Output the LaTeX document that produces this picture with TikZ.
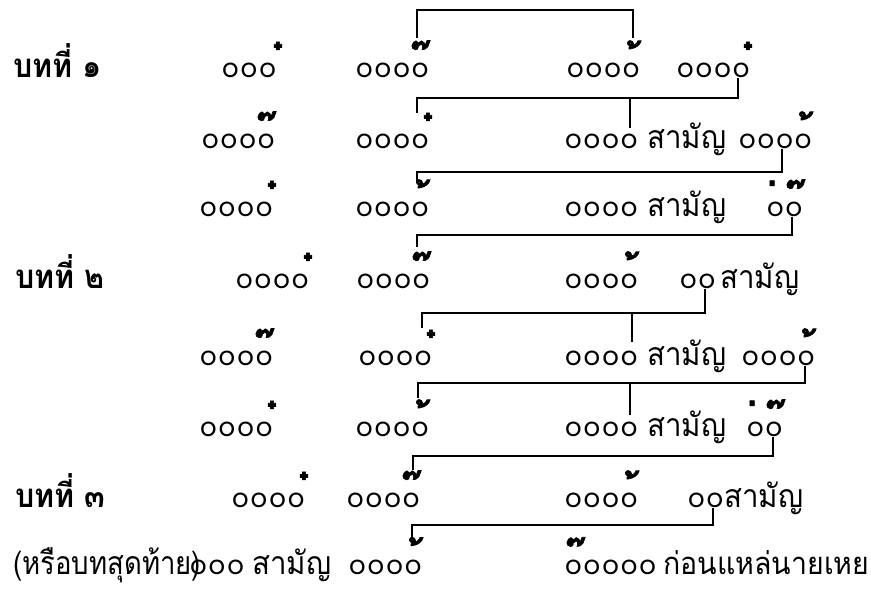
\documentclass[tikz,border=0pt]{standalone}
\usepackage{fontspec}
\newfontfamily\thai[Script=Thai,FakeStretch=0.92]{Loma}
\newfontfamily\thain[Script=Thai,FakeStretch=0.86]{Loma}
\newfontfamily\thaimk[Script=Thai,BoldFeatures={FakeBold=1.5}]{Loma}
\newfontfamily\circf{Poppins}
\newcommand\circs[1]{\foreach \i in {1,...,#1}{\ifnum\i>1 \kern1.9pt\fi o}}
\newcommand\mEk{\char"0E48}
\newcommand\mTho{\char"0E49}
\newcommand\mTri{\char"0E4A}
\newcommand\mCh{\char"0E4B}
\begin{document}
\begin{tikzpicture}[x=1pt,y=-1pt,
  circ/.style={anchor=base west,inner sep=0pt,font=\circf\fontsize{26}{26}\selectfont},
  ttxt/.style={anchor=base west,inner sep=0pt,font=\thai\fontsize{32}{36}\selectfont},
  lbl/.style={anchor=base west,inner sep=0pt,font=\thai\bfseries\fontsize{33}{36}\selectfont},
  mk/.style={anchor=base,inner sep=0pt,font=\thaimk\bfseries\fontsize{38}{40}\selectfont},
  br/.style={line width=2.8pt,line join=miter}]
\useasboundingbox (0,0) rectangle (871,592);
\def\bA{77.75}\def\bB{148.75}\def\bC{216.75}\def\bD{288.75}
\def\bE{365.75}\def\bF{436.75}\def\bG{507.75}\def\bH{574.5}
\def\mo{3}
% row 1
\node[lbl] (t1) at (13,\bA) {บทที่ ๑};
\node[circ] (r1a) at (222,\bA) {\circs{3}};
\node[mk] (m1a) at (285,\bA+\mo) {\mCh};
\node[circ] (r1b) at (356,\bA) {\circs{4}};
\node[mk] (m1b) at (428,\bA+\mo) {\mTri};
\node[circ] (r1c) at (567,\bA) {\circs{4}};
\node[mk] (m1c) at (640,\bA+\mo) {\mTho};
\node[circ] (r1d) at (677,\bA) {\circs{4}};
\node[mk] (m1d) at (755,\bA+\mo) {\mCh};
% row 2
\node[circ] (r2a) at (202,\bB) {\circs{4}};
\node[mk] (m2a) at (274,\bB+\mo) {\mTri};
\node[circ] (r2b) at (356,\bB) {\circs{4}};
\node[mk] (m2b) at (435,\bB+\mo) {\mCh};
\node[circ] (r2c) at (565,\bB) {\circs{4}};
\node[ttxt] (s2) at (647,\bB) {สามัญ};
\node[circ] (r2d) at (739,\bB) {\circs{4}};
\node[mk] (m2d) at (812,\bB+\mo) {\mTho};
% row 3
\node[circ] (r3a) at (200,\bC) {\circs{4}};
\node[mk] (m3a) at (279,\bC+\mo) {\mCh};
\node[circ] (r3b) at (356,\bC) {\circs{4}};
\node[mk] (m3b) at (429,\bC+\mo) {\mTho};
\node[circ] (r3c) at (565,\bC) {\circs{4}};
\node[ttxt] (s3) at (647,\bC) {สามัญ};
\node[circ] (r3d) at (767,\bC) {\circs{2}};
\node[mk] (e3d) at (777,\bC+\mo) {\mEk};
\node[mk] (m3d) at (803,\bC+\mo) {\mTri};
% row 4
\node[lbl] (t2) at (15,\bD) {บทที่ ๒};
\node[circ] (r4a) at (236,\bD) {\circs{4}};
\node[mk] (m4a) at (315,\bD+\mo) {\mCh};
\node[circ] (r4b) at (357,\bD) {\circs{4}};
\node[mk] (m4b) at (429,\bD+\mo) {\mTri};
\node[circ] (r4c) at (565,\bD) {\circs{4}};
\node[mk] (m4c) at (638,\bD+\mo) {\mTho};
\node[circ] (r4d) at (680,\bD) {\circs{2}};
\node[ttxt] (s4) at (720,\bD) {สามัญ};
% row 5
\node[circ] (r5a) at (200,\bE) {\circs{4}};
\node[mk] (m5a) at (272,\bE+\mo) {\mTri};
\node[circ] (r5b) at (359,\bE) {\circs{4}};
\node[mk] (m5b) at (438,\bE+\mo) {\mCh};
\node[circ] (r5c) at (565,\bE) {\circs{4}};
\node[ttxt] (s5) at (647,\bE) {สามัญ};
\node[circ] (r5d) at (742,\bE) {\circs{4}};
\node[mk] (m5d) at (815,\bE+\mo) {\mTho};
% row 6
\node[circ] (r6a) at (200,\bF) {\circs{4}};
\node[mk] (m6a) at (279,\bF+\mo) {\mCh};
\node[circ] (r6b) at (356,\bF) {\circs{4}};
\node[mk] (m6b) at (429,\bF+\mo) {\mTho};
\node[circ] (r6c) at (565,\bF) {\circs{4}};
\node[ttxt] (s6) at (647,\bF) {สามัญ};
\node[circ] (r6d) at (747,\bF) {\circs{2}};
\node[mk] (e6d) at (757,\bF+\mo) {\mEk};
\node[mk] (m6d) at (783,\bF+\mo) {\mTri};
% row 7
\node[lbl] (t3) at (15,\bG) {บทที่ ๓};
\node[circ] (r7a) at (232,\bG) {\circs{4}};
\node[mk] (m7a) at (311,\bG+\mo) {\mCh};
\node[circ] (r7b) at (347,\bG) {\circs{4}};
\node[mk] (m7b) at (419,\bG+\mo) {\mTri};
\node[circ] (r7c) at (565,\bG) {\circs{4}};
\node[mk] (m7c) at (638,\bG+\mo) {\mTho};
\node[circ] (r7d) at (688,\bG) {\circs{2}};
\node[ttxt] (s7) at (724,\bG) {สามัญ};
% row 8
\node[anchor=base west,inner sep=0pt,font=\thain\fontsize{32}{36}\selectfont] (t4) at (13,\bH) {(หรือบทสุดท้าย)};
\node[circ] (r8a) at (190,\bH) {\circs{3}};
\node[ttxt] (s8) at (252,\bH) {สามัญ};
\node[circ] (r8b) at (349,\bH) {\circs{4}};
\node[mk] (m8b) at (422,\bH+\mo) {\mTho};
\node[circ] (r8c) at (565,\bH) {\circs{5}};
\node[mk] (m8c) at (583,\bH+\mo) {\mTri};
\node[ttxt,font=\thai\fontsize{31}{36}\selectfont] (t5) at (663,\bH) {ก่อนแหล่นายเหย};
% brackets
\coordinate (k1a) at (417,38); \coordinate (k1b) at (633,38);
\draw[br] (k1a) -- (417,10) -- (633,10) -- (k1b);
\coordinate (k2a) at (417,113); \coordinate (k2b) at (738,78); \coordinate (k2t) at (630,128);
\draw[br] (k2a) -- (417,98) -- (738,98) -- (k2b);
\draw[br] (630,98) -- (k2t);
\coordinate (k3a) at (417,183); \coordinate (k3b) at (782,149);
\draw[br] (k3a) -- (417,172) -- (782,172) -- (k3b);
\coordinate (k4a) at (417,247); \coordinate (k4b) at (792,217);
\draw[br] (k4a) -- (417,235) -- (792,235) -- (k4b);
\coordinate (k5a) at (422,328); \coordinate (k5b) at (705,289); \coordinate (k5t) at (632,342);
\draw[br] (k5a) -- (422,313) -- (705,313) -- (k5b);
\draw[br] (632,313) -- (k5t);
\coordinate (k6a) at (418,398); \coordinate (k6b) at (805,366); \coordinate (k6t) at (630,415);
\draw[br] (k6a) -- (418,383) -- (805,383) -- (k6b);
\draw[br] (630,383) -- (k6t);
\coordinate (k7a) at (413,470); \coordinate (k7b) at (773,437);
\draw[br] (k7a) -- (413,456) -- (773,456) -- (k7b);
\coordinate (k8a) at (412,538); \coordinate (k8b) at (713,508);
\draw[br] (k8a) -- (412,525) -- (713,525) -- (k8b);
\end{tikzpicture}
\end{document}
